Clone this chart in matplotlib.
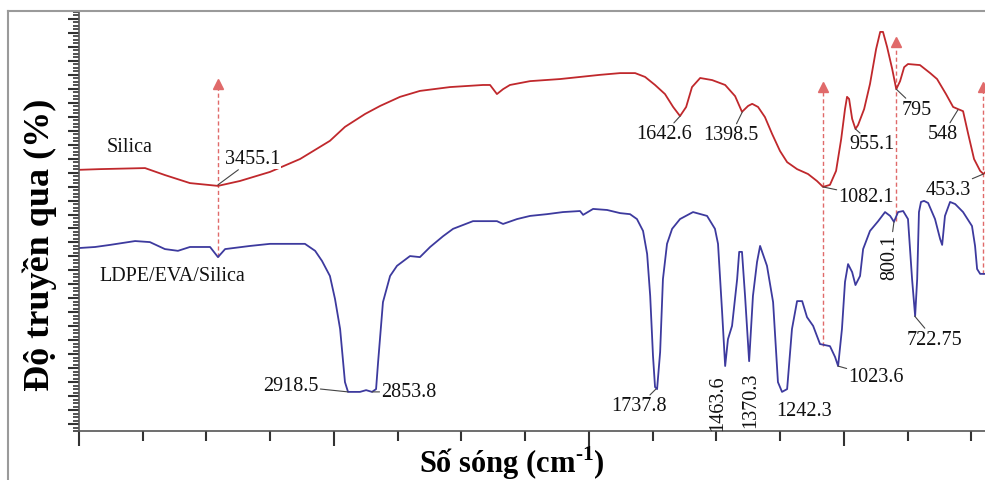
import matplotlib.pyplot as plt
from matplotlib.ticker import MultipleLocator
from matplotlib.lines import Line2D

plt.rcParams['font.family'] = ['Liberation Serif', 'DejaVu Serif']
plt.rcParams['mathtext.fontset'] = 'custom'
plt.rcParams['mathtext.rm'] = 'Liberation Serif'
plt.rcParams['mathtext.bf'] = 'Liberation Serif:bold'

# --- Phổ FTIR (số sóng cm-1, độ truyền qua tương đối) ---
silica_wn = [4000, 3918, 3741, 3663, 3565, 3455, 3369, 3251, 3133, 3016, 2957, 2878, 2819,
             2741, 2663, 2545, 2416, 2388, 2361, 2337, 2310, 2231, 2113, 2035, 1957, 1878,
             1819, 1780, 1741, 1702, 1670, 1643, 1619, 1596, 1564, 1517, 1466, 1427, 1400,
             1376, 1360, 1337, 1310, 1282, 1251, 1223, 1184, 1141, 1106, 1082, 1055, 1031,
             1011, 996, 988, 980, 968, 955, 945, 921, 898, 874, 858, 847, 831, 811, 795,
             780, 764, 749, 702, 662, 635, 600, 572, 553, 533, 513, 490, 466, 453, 441]
silica_T = [74.8, 75.0, 75.3, 73.3, 71.0, 70.2, 71.6, 74.2, 77.9, 83.1, 87.1, 90.8, 93.1,
            95.7, 97.4, 98.5, 99.1, 99.1, 96.5, 97.9, 99.1, 100.2, 100.8, 101.4, 102.0, 102.5,
            102.5, 101.4, 99.1, 96.5, 92.8, 90.2, 92.8, 98.5, 101.1, 100.5, 99.1, 95.9, 91.4,
            93.1, 93.7, 92.8, 89.9, 85.1, 80.2, 77.0, 75.0, 73.6, 71.6, 69.9, 70.5, 74.5,
            83.6, 92.2, 95.7, 95.1, 89.4, 86.5, 87.6, 92.2, 99.4, 109.4, 114.3, 114.3, 110.0,
            103.7, 97.9, 100.2, 104.2, 105.1, 104.8, 102.5, 100.8, 96.5, 92.8, 92.2, 91.6,
            85.1, 77.9, 74.5, 73.6, 74.5]

blend_wn = [4000, 3937, 3878, 3780, 3722, 3663, 3612, 3565, 3486, 3455, 3427, 3329, 3251,
            3114, 3074, 3047, 3016, 2996, 2976, 2957, 2945, 2898, 2874, 2851, 2835, 2827,
            2808, 2780, 2753, 2702, 2663, 2623, 2572, 2533, 2455, 2361, 2337, 2282, 2231,
            2165, 2102, 2035, 2023, 1984, 1929, 1878, 1839, 1812, 1788, 1772, 1760, 1749,
            1741, 1733, 1721, 1710, 1694, 1674, 1643, 1592, 1537, 1506, 1494, 1478, 1466,
            1455, 1439, 1419, 1411, 1400, 1388, 1372, 1357, 1341, 1329, 1302, 1278, 1259,
            1243, 1223, 1204, 1184, 1164, 1145, 1121, 1094, 1055, 1035, 1023, 1008, 996,
            984, 968, 955, 937, 925, 898, 866, 839, 819, 804, 788, 768, 749, 733, 721, 713,
            706, 698, 686, 670, 643, 623, 615, 604, 584, 564, 533, 498, 486, 478, 466, 441]
blend_T = [52.4, 52.7, 53.3, 54.4, 54.1, 52.1, 51.6, 52.7, 52.7, 49.8, 52.1, 53.0, 53.6,
           53.6, 51.6, 48.7, 44.4, 37.8, 29.2, 14.0, 11.2, 11.2, 11.7, 11.2, 12.0, 19.8,
           36.9, 44.4, 47.3, 50.1, 49.8, 52.7, 55.8, 57.9, 60.1, 60.1, 59.3, 60.7, 61.6,
           62.1, 62.7, 63.0, 61.9, 63.6, 63.3, 62.4, 62.1, 60.7, 57.3, 50.7, 38.7, 21.5,
           12.6, 12.0, 22.6, 43.5, 53.6, 57.9, 60.7, 62.7, 61.6, 57.9, 53.6, 34.1, 18.6,
           26.3, 30.1, 43.5, 51.3, 51.3, 38.7, 20.0, 38.7, 48.4, 53.0, 47.3, 36.9, 14.0,
           11.2, 12.0, 29.2, 37.2, 37.2, 32.6, 30.1, 24.9, 24.3, 21.2, 18.6, 29.2, 42.7,
           47.8, 45.5, 41.8, 44.4, 52.1, 57.3, 60.1, 62.7, 61.6, 59.9, 62.7, 63.0, 60.7,
           43.5, 32.9, 43.5, 62.7, 65.6, 65.9, 65.3, 60.7, 55.0, 53.3, 61.6, 65.6, 65.0,
           62.7, 58.7, 53.0, 46.4, 45.0, 45.0]

# mũi tên đứt nét đánh dấu các đỉnh
arrow_wn = [3455.1, 1082.1, 795, 453.3]
arrow_lo = [49.8, 24.3, 60.1, 45.0]
arrow_hi = [99.4, 98.5, 111.4, 98.5]

# nhãn đỉnh: chữ, vị trí đỉnh, vị trí chữ, góc xoay, có đường dẫn hay không
peak_text = ['3455.1', '1642.6', '1398.5', '955.1', '795', '548', '1082.1', '453.3',
             '800.1', '2918.5', '2853.8', '1737.8', '1463.6', '1370.3', '1242.3',
             '1023.6', '722.75']
peak_wn = [3455.1, 1642.6, 1398.5, 955.1, 795, 553, 1082.1, 453.3,
           804, 2945, 2851, 1737.8, 1463.6, 1370.3, 1242.3, 1023.6, 722.75]
peak_T = [70.5, 90.2, 91.4, 86.5, 97.9, 92.0, 69.9, 73.6,
          59.9, 11.2, 11.2, 12.0, 18.6, 20.0, 11.2, 18.6, 32.9]
text_wn = [3318, 1706, 1443, 890, 713, 611, 913, 592,
           822, 3169, 2706, 1804, 1494, 1364, 1157, 874, 647]
text_T = [77.9, 85.1, 84.8, 82.2, 92.2, 85.1, 67.3, 69.3,
          50.1, 12.9, 11.2, 7.2, 8.3, 9.2, 6.0, 15.5, 26.3]
text_rot = [0, 0, 0, 0, 0, 0, 0, 0, 90, 0, 0, 0, 90, 90, 0, 0, 0]
leader = [True, True, True, True, True, True, True, True,
          True, True, True, True, False, False, False, True, True]

fig = plt.figure(figsize=(9.85, 4.81), dpi=100)
ax = fig.add_axes([79 / 985, 49 / 481, 906 / 985, 419 / 481])

ax.plot(silica_wn, silica_T, color='#c0282c', lw=1.3, zorder=2)
ax.plot(blend_wn, blend_T, color='#3d3a9e', lw=1.3, zorder=2)

ax.vlines(arrow_wn, arrow_lo, arrow_hi, colors='#e06a6a', linestyles=(0, (3, 2)), lw=1.0, zorder=1)
ax.plot(arrow_wn, arrow_hi, ls='none', marker='^', ms=7, color='#e06a6a', zorder=1)

for i in range(len(peak_text)):
    props = None
    if leader[i]:
        props = dict(arrowstyle='-', color='#444444', lw=0.8, shrinkA=1, shrinkB=0)
    ax.annotate(peak_text[i], xy=(peak_wn[i], peak_T[i]), xytext=(text_wn[i], text_T[i]),
                ha='center', va='center', rotation=text_rot[i], fontsize=14.5, color='#111111',
                arrowprops=props, zorder=4,
                bbox=dict(facecolor='white', edgecolor='none', pad=0.3))

ax.text(3800, 81.6, 'Silica', ha='center', va='center', fontsize=14.5, color='#111111')
ax.text(3635, 44.4, 'LDPE/EVA/Silica', ha='center', va='center', fontsize=14.5, color='#111111')

ax.set_xlim(4000, 447)
ax.set_ylim(0, 120)
ax.xaxis.set_major_locator(MultipleLocator(1000))
ax.xaxis.set_minor_locator(MultipleLocator(250))
ax.set_yticks(range(2, 120, 4))
ax.yaxis.set_minor_locator(MultipleLocator(1))
ax.tick_params(axis='x', which='major', direction='out', length=11, width=1.5, color='#333333',
               labelbottom=False)
ax.tick_params(axis='x', which='minor', direction='out', length=7, width=1.5, color='#333333')
ax.tick_params(axis='y', which='major', direction='out', length=8, width=1.5, color='#333333',
               labelleft=False)
ax.tick_params(axis='y', which='minor', direction='out', length=4, width=1.2, color='#333333')
for side in ['top', 'right']:
    ax.spines[side].set_visible(False)
for side in ['left', 'bottom']:
    ax.spines[side].set_color('#555555')
    ax.spines[side].set_linewidth(1.2)

fig.text(512 / 985, 1 - 463 / 481, 'Số sóng (cm$^{\\mathbf{\u2010}\\mathbf{1}}$)', ha='center',
         va='center', fontsize=22, fontweight='bold')
fig.text(40 / 985, 1 - 245 / 481, 'Độ truyền qua (%)', ha='center', va='center', rotation=90,
         fontsize=26, fontweight='bold')

# khung ảnh màu xám
fig.add_artist(Line2D([8 / 985, 8 / 985], [0, 1 - 12 / 481], transform=fig.transFigure,
                      color='#9a9a9a', lw=1.5))
fig.add_artist(Line2D([8 / 985, 1], [1 - 12 / 481, 1 - 12 / 481], transform=fig.transFigure,
                      color='#9a9a9a', lw=1.5))

fig.savefig('out.png', dpi=100)
